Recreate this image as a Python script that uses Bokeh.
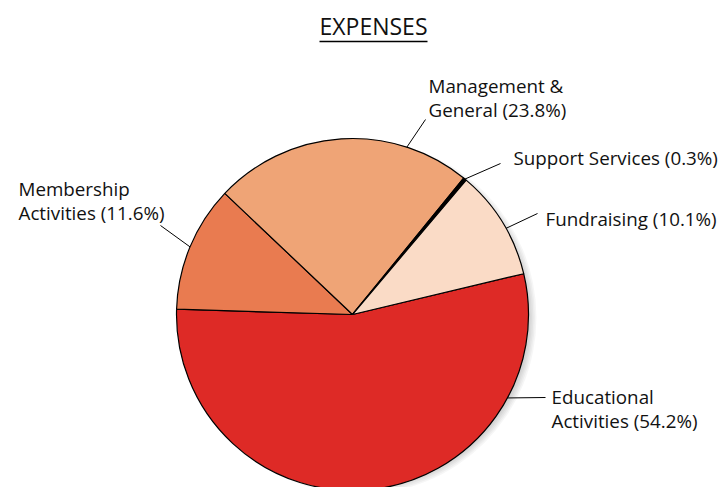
import math
from bokeh.plotting import figure
from bokeh.models import Range1d
from bokeh.core.properties import value
from bokeh.embed import file_html
from bokeh.resources import INLINE

# ---- data ----
categories = ["Educational\nActivities", "Membership\nActivities", "Management &\nGeneral",
              "Support Services", "Fundraising"]
percents = [54.2, 11.6, 23.8, 0.3, 10.1]
colors = ["#DE2A26", "#E97B50", "#EFA476", "#000000", "#FADBC6"]
title_text = "EXPENSES"

# ---- layout (screen-like coordinates, y measured upward) ----
W, H = 725, 487
CX, CY, R = 352, H - 314, 176
START_DEG = 13.4          # first slice starts here and goes clockwise
FONT = "Open Sans"

# label anchor positions (left x, top-line center y in screen px) and leader angles
label_pos = [(551, 396), (18, 188), (428, 85), (513, 157), (545, 218)]
leader_angle = [-28.3, 157.4, 72.0, 50.3, 29.3]
leader_end = [(545, 397), (160, 225), (425, 119), (500, 163), (537, 213)]

p = figure(width=W, height=H, x_range=Range1d(0, W), y_range=Range1d(0, H),
           output_backend="svg", toolbar_location=None, min_border=0)
p.axis.visible = False
p.grid.visible = False
p.outline_line_color = None
p.background_fill_color = "white"

# soft shadow
for k in range(8):
    p.circle(x=[CX + 7], y=[CY - 3], radius=R + 1 - k * 1.5, fill_color="#000000",
             fill_alpha=0.035, line_color=None)

# wedges (clockwise from START_DEG)
starts, ends = [], []
a = START_DEG
for pct in percents:
    sweep = pct / 100 * 360
    starts.append(math.radians(a))
    ends.append(math.radians(a - sweep))
    a -= sweep
p.wedge(x=CX, y=CY, radius=R, start_angle=starts, end_angle=ends, direction="clock",
        fill_color=colors, line_color="black", line_width=1.2)

# leader lines
xs0, ys0, xs1, ys1 = [], [], [], []
for ang, (ex, ey) in zip(leader_angle, leader_end):
    r = math.radians(ang)
    xs0.append(CX + R * math.cos(r))
    ys0.append(CY + R * math.sin(r))
    xs1.append(ex)
    ys1.append(H - ey)
p.segment(x0=xs0, y0=ys0, x1=xs1, y1=ys1, line_color="black", line_width=1)

# labels
texts = [f"{c} ({v}%)" for c, v in zip(categories, percents)]
p.text(x=[lp[0] for lp in label_pos], y=[H - lp[1] + 13 for lp in label_pos], text=texts,
       text_font=value(FONT), text_font_size="18.8px", text_color="#111111",
       text_align="left", text_baseline="top", text_line_height=0.94)

# title with underline
p.text(x=[373], y=[H - 25], text=[title_text], text_font=value(FONT),
       text_font_size="23px", text_color="#111111", text_align="center",
       text_baseline="middle")
p.segment(x0=[319], y0=[H - 41], x1=[427], y1=[H - 41], line_color="black", line_width=1.5)

open("out.html", "w").write(file_html(p, INLINE))
